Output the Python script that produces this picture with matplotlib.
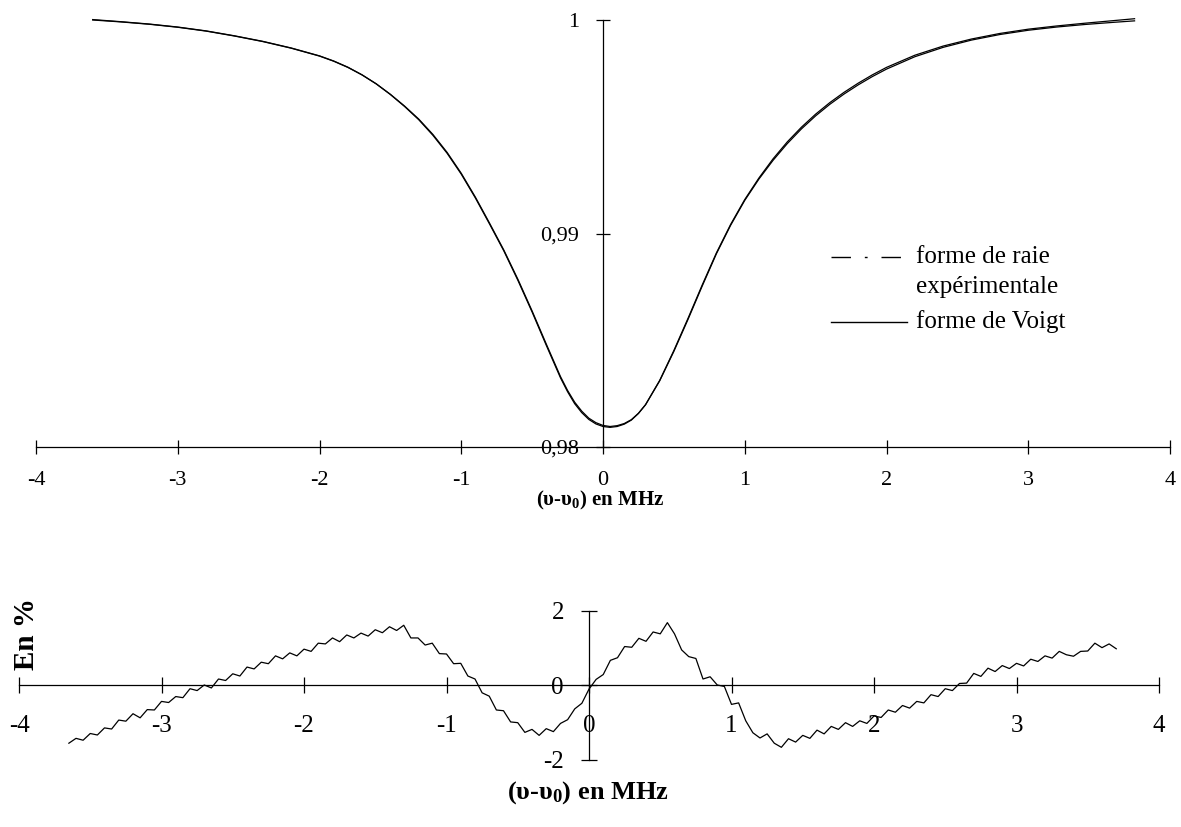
import matplotlib
matplotlib.use("Agg")
import matplotlib.pyplot as plt
from matplotlib.lines import Line2D

plt.rcParams['font.family'] = ['Liberation Serif', 'DejaVu Serif']
plt.rcParams['mathtext.fontset'] = 'custom'
plt.rcParams['mathtext.rm'] = 'Liberation Serif'
plt.rcParams['mathtext.bf'] = 'Liberation Serif:bold'
plt.rcParams['mathtext.it'] = 'Liberation Serif:italic'
plt.rcParams['axes.unicode_minus'] = False

# ---------------- data ----------------
freq_top = [-3.60, -3.40, -3.20, -3.00, -2.80, -2.60, -2.40, -2.20, -2.00, -1.90,
            -1.80, -1.70, -1.60, -1.50, -1.40, -1.30, -1.20, -1.10, -1.00, -0.90,
            -0.80, -0.70, -0.60, -0.50, -0.40, -0.30, -0.25, -0.20, -0.15, -0.10,
            -0.05, 0.00, 0.05, 0.10, 0.15, 0.20, 0.25, 0.30, 0.40, 0.50,
            0.60, 0.70, 0.80, 0.90, 1.00, 1.10, 1.20, 1.30, 1.40, 1.50,
            1.60, 1.70, 1.80, 1.90, 2.00, 2.20, 2.40, 2.60, 2.80, 3.00,
            3.20, 3.40, 3.60, 3.75]
voigt = [1.00000, 0.99991, 0.99980, 0.99966, 0.99948, 0.99925, 0.99899, 0.99868, 0.99831, 0.99807,
         0.99778, 0.99743, 0.99701, 0.99652, 0.99597, 0.99536, 0.99464, 0.99380, 0.99282, 0.99170,
         0.99048, 0.98923, 0.98785, 0.98637, 0.98482, 0.98330, 0.98265, 0.98210, 0.98168, 0.98135,
         0.98114, 0.98101, 0.98096, 0.98100, 0.98110, 0.98128, 0.98158, 0.98198, 0.98310, 0.98448,
         0.98598, 0.98754, 0.98905, 0.99038, 0.99155, 0.99255, 0.99343, 0.99421, 0.99490, 0.99551,
         0.99605, 0.99653, 0.99696, 0.99735, 0.99770, 0.99828, 0.99872, 0.99906, 0.99932, 0.99952,
         0.99967, 0.99979, 0.99989, 0.99996]
experimental = [1.00002, 0.99992, 0.99981, 0.99967, 0.99949, 0.99926, 0.99900, 0.99869, 0.99832, 0.99808,
                0.99779, 0.99743, 0.99701, 0.99651, 0.99595, 0.99533, 0.99460, 0.99376, 0.99278, 0.99166,
                0.99044, 0.98919, 0.98780, 0.98632, 0.98476, 0.98324, 0.98259, 0.98203, 0.98161, 0.98129,
                0.98108, 0.98096, 0.98092, 0.98096, 0.98107, 0.98126, 0.98157, 0.98198, 0.98312, 0.98452,
                0.98603, 0.98759, 0.98909, 0.99042, 0.99159, 0.99260, 0.99350, 0.99429, 0.99498, 0.99559,
                0.99613, 0.99661, 0.99704, 0.99743, 0.99778, 0.99835, 0.99878, 0.99911, 0.99937, 0.99957,
                0.99972, 0.99985, 0.99997, 1.00006]

freq_res = [-3.65, -3.60, -3.55, -3.50, -3.45, -3.40, -3.35, -3.30, -3.25, -3.20,
            -3.15, -3.10, -3.05, -3.00, -2.95, -2.90, -2.85, -2.80, -2.75, -2.70,
            -2.65, -2.60, -2.55, -2.50, -2.45, -2.40, -2.35, -2.30, -2.25, -2.20,
            -2.15, -2.10, -2.05, -2.00, -1.95, -1.90, -1.85, -1.80, -1.75, -1.70,
            -1.65, -1.60, -1.55, -1.50, -1.45, -1.40, -1.35, -1.30, -1.25, -1.20,
            -1.15, -1.10, -1.05, -1.00, -0.95, -0.90, -0.85, -0.80, -0.75, -0.70,
            -0.65, -0.60, -0.55, -0.50, -0.45, -0.40, -0.35, -0.30, -0.25, -0.20,
            -0.15, -0.10, -0.05, 0.00, 0.05, 0.10, 0.15, 0.20, 0.25, 0.30,
            0.35, 0.40, 0.45, 0.50, 0.55, 0.60, 0.65, 0.70, 0.75, 0.80,
            0.85, 0.90, 0.95, 1.00, 1.05, 1.10, 1.15, 1.20, 1.25, 1.30,
            1.35, 1.40, 1.45, 1.50, 1.55, 1.60, 1.65, 1.70, 1.75, 1.80,
            1.85, 1.90, 1.95, 2.00, 2.05, 2.10, 2.15, 2.20, 2.25, 2.30,
            2.35, 2.40, 2.45, 2.50, 2.55, 2.60, 2.65, 2.70, 2.75, 2.80,
            2.85, 2.90, 2.95, 3.00, 3.05, 3.10, 3.15, 3.20, 3.25, 3.30,
            3.35, 3.40, 3.45, 3.50, 3.55, 3.60, 3.65, 3.70]
residual = [-1.55, -1.42, -1.47, -1.29, -1.33, -1.14, -1.17, -0.93, -0.96, -0.76,
            -0.87, -0.65, -0.66, -0.43, -0.46, -0.30, -0.33, -0.09, -0.14, 0.01,
            -0.07, 0.17, 0.13, 0.31, 0.25, 0.49, 0.44, 0.62, 0.58, 0.79,
            0.71, 0.87, 0.79, 0.97, 0.91, 1.13, 1.11, 1.27, 1.17, 1.35,
            1.27, 1.40, 1.32, 1.49, 1.41, 1.57, 1.47, 1.61, 1.27, 1.27,
            1.08, 1.13, 0.85, 0.84, 0.58, 0.59, 0.25, 0.17, -0.20, -0.29,
            -0.66, -0.68, -0.98, -1.00, -1.26, -1.18, -1.34, -1.16, -1.24, -1.02,
            -0.92, -0.63, -0.48, -0.10, 0.16, 0.29, 0.67, 0.74, 1.04, 1.02,
            1.26, 1.18, 1.43, 1.38, 1.68, 1.38, 0.95, 0.77, 0.72, 0.17,
            0.23, 0.01, -0.03, -0.51, -0.47, -0.95, -1.27, -1.41, -1.30, -1.55,
            -1.66, -1.43, -1.52, -1.34, -1.42, -1.20, -1.30, -1.10, -1.18, -1.00,
            -1.10, -0.95, -1.02, -0.82, -0.86, -0.66, -0.72, -0.54, -0.61, -0.43,
            -0.47, -0.25, -0.30, -0.09, -0.14, 0.05, 0.06, 0.32, 0.24, 0.46,
            0.37, 0.53, 0.45, 0.59, 0.52, 0.70, 0.64, 0.79, 0.73, 0.91,
            0.82, 0.78, 0.91, 0.92, 1.13, 1.01, 1.11, 0.98]

x_ticks = [-4, -3, -2, -1, 0, 1, 2, 3, 4]
x_ticklabels = ['-4', '-3', '-2', '-1', '0', '1', '2', '3', '4']
top_yticks = [0.98, 0.99, 1.0]
top_yticklabels = ['0,98', '0,99', '1']
bot_yticks = [-2, 0, 2]
bot_yticklabels = ['-2', '0', '2']

W, H = 1181, 827
fig = plt.figure(figsize=(W / 100, H / 100), dpi=100)

# ---------------- top panel ----------------
ax1 = fig.add_axes([36 / W, 1 - 447 / H, 1134 / W, 427 / H])
ax1.set_xlim(-4, 4)
ax1.set_ylim(0.98, 1.0)
ax1.plot(freq_top, experimental, color='black', lw=0.9, clip_on=False)
ax1.plot(freq_top, voigt, color='black', lw=0.9, clip_on=False)
for s in ['top', 'right']:
    ax1.spines[s].set_visible(False)
ax1.spines['left'].set_position(('data', 0))
ax1.spines['left'].set_linewidth(0.9)
ax1.spines['bottom'].set_linewidth(0.9)
ax1.set_xticks(x_ticks)
ax1.set_xticklabels(x_ticklabels)
ax1.set_yticks(top_yticks)
ax1.set_yticklabels(top_yticklabels)
ax1.tick_params(axis='both', direction='inout', length=10, width=0.9, labelsize=16)
ax1.tick_params(axis='x', pad=12)
ax1.tick_params(axis='y', pad=12)

fig.text(600 / W, 1 - 500 / H, '(υ-υ$_\\mathbf{0}$) en MHz', ha='center', va='center',
         fontsize=15, fontweight='bold')

# legend (drawn by hand)
leg_y1 = 1 - 257 / H
leg_y3 = 1 - 322 / H
fig.add_artist(Line2D([831 / W, 907 / W], [leg_y1, leg_y1], color='black', lw=1.0,
                      dashes=(14, 10, 2, 10)))
fig.add_artist(Line2D([831 / W, 907 / W], [leg_y3, leg_y3], color='black', lw=1.0))
fig.text(916 / W, leg_y1, 'forme de raie', ha='left', va='center', fontsize=18)
fig.text(916 / W, 1 - 287 / H, 'expérimentale', ha='left', va='center', fontsize=18)
fig.text(916 / W, leg_y3, 'forme de Voigt', ha='left', va='center', fontsize=18)

# ---------------- bottom panel ----------------
ax2 = fig.add_axes([19 / W, 1 - 760 / H, 1140 / W, (760 - 610.7) / H])
ax2.set_xlim(-4, 4)
ax2.set_ylim(-2, 2)
ax2.plot(freq_res, residual, color='black', lw=0.9)
for s in ['top', 'right']:
    ax2.spines[s].set_visible(False)
ax2.spines['left'].set_position(('data', 0))
ax2.spines['bottom'].set_position(('data', 0))
ax2.spines['left'].set_linewidth(0.9)
ax2.spines['bottom'].set_linewidth(0.9)
ax2.set_xticks(x_ticks)
ax2.set_xticklabels(x_ticklabels)
ax2.set_yticks(bot_yticks)
ax2.set_yticklabels(bot_yticklabels)
ax2.tick_params(axis='both', direction='inout', length=12, width=0.9, labelsize=18)
ax2.tick_params(axis='x', pad=15)
ax2.tick_params(axis='y', pad=12)

fig.text(27 / W, 1 - 634 / H, 'En %', rotation=90, ha='center', va='center',
         fontsize=21, fontweight='bold')
fig.text(588 / W, 1 - 793 / H, '(υ-υ$_\\mathbf{0}$) en MHz', ha='center', va='center',
         fontsize=19, fontweight='bold')

fig.savefig('out.png', dpi=100)
